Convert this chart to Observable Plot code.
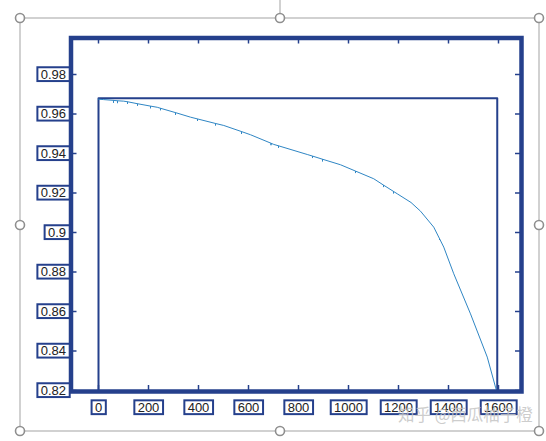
<!DOCTYPE html>
<html><head><meta charset="utf-8">
<script src="https://cdn.jsdelivr.net/npm/d3@7"></script>
<script src="https://cdn.jsdelivr.net/npm/@observablehq/plot@0.6"></script>
<style>html,body{margin:0;padding:0;background:#fff;overflow:hidden}</style>
</head><body>
<div id="chart"></div>
<script>
// ---- data ----
const xTicks = [0, 200, 400, 600, 800, 1000, 1200, 1400, 1600];
const xTickLabels = ["0", "200", "400", "600", "800", "1000", "1200", "1400", "1600"];
const yTicks = [0.82, 0.84, 0.86, 0.88, 0.90, 0.92, 0.94, 0.96, 0.98];
const yTickLabels = ["0.82", "0.84", "0.86", "0.88", "0.9", "0.92", "0.94", "0.96", "0.98"];

// outline series (dark)
const rectX = [0, 0, 1595, 1595];
const rectY = [0.82, 0.968, 0.968, 0.82];

const curveX = [0, 20, 60, 60, 60, 76, 76, 76, 101, 116, 116, 116, 156, 156, 156, 208, 208, 208, 235,
  248, 248, 248, 308, 308, 308, 368, 396, 396, 396, 468, 468, 468, 501, 572, 572, 572, 608,
  690, 690, 690, 701, 720, 720, 720, 835, 856, 856, 856, 896, 896, 896, 968, 1028, 1028, 1028,
  1101, 1140, 1140, 1140, 1180, 1180, 1180, 1195, 1250, 1288, 1341, 1364, 1364, 1364, 1381,
  1421, 1488, 1555, 1588, 1592];
const curveY = [0.9675, 0.9673, 0.9669, 0.9657, 0.9669, 0.9667, 0.9655, 0.9667, 0.9665, 0.9662, 0.9651, 0.9662,
  0.9652, 0.9642, 0.9652, 0.9640, 0.9629, 0.9640, 0.9634,
  0.9629, 0.9619, 0.9629, 0.9607, 0.9596, 0.9607, 0.9584, 0.9575, 0.9565, 0.9575, 0.9552, 0.9542, 0.9552, 0.9542,
  0.9511, 0.9499, 0.9511, 0.9495,
  0.9452, 0.9442, 0.9452, 0.9446, 0.9439, 0.9429, 0.9439, 0.9395, 0.9387, 0.9377, 0.9387, 0.9371, 0.9360, 0.9371,
  0.9343, 0.9311, 0.9301, 0.9311,
  0.9272, 0.9240, 0.9230, 0.9240, 0.9208, 0.9198, 0.9208, 0.9196, 0.9152, 0.9108, 0.9027, 0.8969, 0.8962, 0.8969, 0.8926,
  0.8791, 0.8588, 0.8369, 0.8217, 0.8200];

const watermark = "知乎 @西瓜柚子橙";

// ---- layout / style ----
const W = 546, H = 441;
const mL = 70.5, mR = 25, mT = 37.5, mB = 50;
const frameW = W - mL - mR, frameH = H - mT - mB;
const navy = "#25408c";
const tickLen = 6;

const curve = curveX.map((x, i) => ({x, y: curveY[i]}));
const outline = rectX.map((x, i) => ({x, y: rectY[i]}));

const chart = Plot.plot({
  width: W, height: H,
  marginLeft: mL, marginRight: mR, marginTop: mT, marginBottom: mB,
  style: {fontFamily: "'Liberation Sans', Arial, sans-serif", fontSize: "13px", color: "#222", background: "#fff", overflow: "visible"},
  x: {domain: [0, 1600], range: [98, 498]},
  y: {domain: [0.82, 0.98], range: [390, 74]},
  marks: [
    Plot.line(outline, {x: "x", y: "y", stroke: navy, strokeWidth: 2}),
    Plot.line(curve, {x: "x", y: "y", stroke: "#2f86c4", strokeWidth: 1}),
    Plot.tickX(xTicks, {x: d => d, stroke: navy, strokeWidth: 1.5, insetTop: frameH - tickLen}),
    Plot.tickX(xTicks, {x: d => d, stroke: navy, strokeWidth: 1.5, insetBottom: frameH - tickLen}),
    Plot.tickY(yTicks, {y: d => d, stroke: navy, strokeWidth: 1.5, insetRight: frameW - tickLen}),
    Plot.tickY(yTicks, {y: d => d, stroke: navy, strokeWidth: 1.5, insetLeft: frameW - tickLen}),
    Plot.frame({stroke: navy, strokeWidth: 4.5}),
    Plot.axisY(yTicks, {tickFormat: d => yTickLabels[yTicks.indexOf(d)], tickSize: 0, tickPadding: 5, label: null}),
    Plot.axisX(xTicks, {tickFormat: d => xTickLabels[xTicks.indexOf(d)], tickSize: 0, tickPadding: 11, label: null})
  ]
});
document.getElementById("chart").append(chart);

// boxes around tick labels
const NS = "http://www.w3.org/2000/svg";
chart.querySelectorAll('g[aria-label="y-axis tick label"] text, g[aria-label="x-axis tick label"] text').forEach(t => {
  const b = t.getBBox();
  const r = document.createElementNS(NS, "rect");
  r.setAttribute("x", b.x - 3.3);
  r.setAttribute("y", b.y + 0.6);
  r.setAttribute("width", b.width + 7);
  r.setAttribute("height", b.height - 1.2);
  r.setAttribute("fill", "#fff");
  r.setAttribute("stroke", navy);
  r.setAttribute("stroke-width", 2);
  const tr = t.getAttribute("transform");
  if (tr) r.setAttribute("transform", tr);
  t.parentNode.insertBefore(r, t);
});

// selection frame with handles (decoration around the picture)
const svg = d3.select(chart);
const deco = svg.append("g");
const gray = "#a3a3a3";
const box = {x0: 20, y0: 18, x1: 539, y1: 431};
const xm = 280, ym = 225;
deco.append("line").attr("x1", xm).attr("x2", xm).attr("y1", 0).attr("y2", box.y0).attr("stroke", gray);
deco.append("rect").attr("x", box.x0).attr("y", box.y0).attr("width", box.x1 - box.x0).attr("height", box.y1 - box.y0)
  .attr("fill", "none").attr("stroke", gray);
const handles = [[box.x0, box.y0], [xm, box.y0], [box.x1, box.y0], [box.x0, ym], [box.x1, ym], [box.x0, box.y1], [xm, box.y1], [box.x1, box.y1]];
deco.selectAll("circle").data(handles).join("circle")
  .attr("cx", d => d[0]).attr("cy", d => d[1]).attr("r", 4.5)
  .attr("fill", "#fff").attr("stroke", "#8f8f8f").attr("stroke-width", 1.6);

// watermark
deco.append("text").attr("x", 398).attr("y", 421).attr("text-anchor", "start")
  .attr("font-family", "'Noto Sans CJK SC', sans-serif").attr("font-size", 16.5)
  .attr("fill", "#c4c4c4").attr("fill-opacity", 0.85)
  .text(watermark);
</script>
</body></html>
